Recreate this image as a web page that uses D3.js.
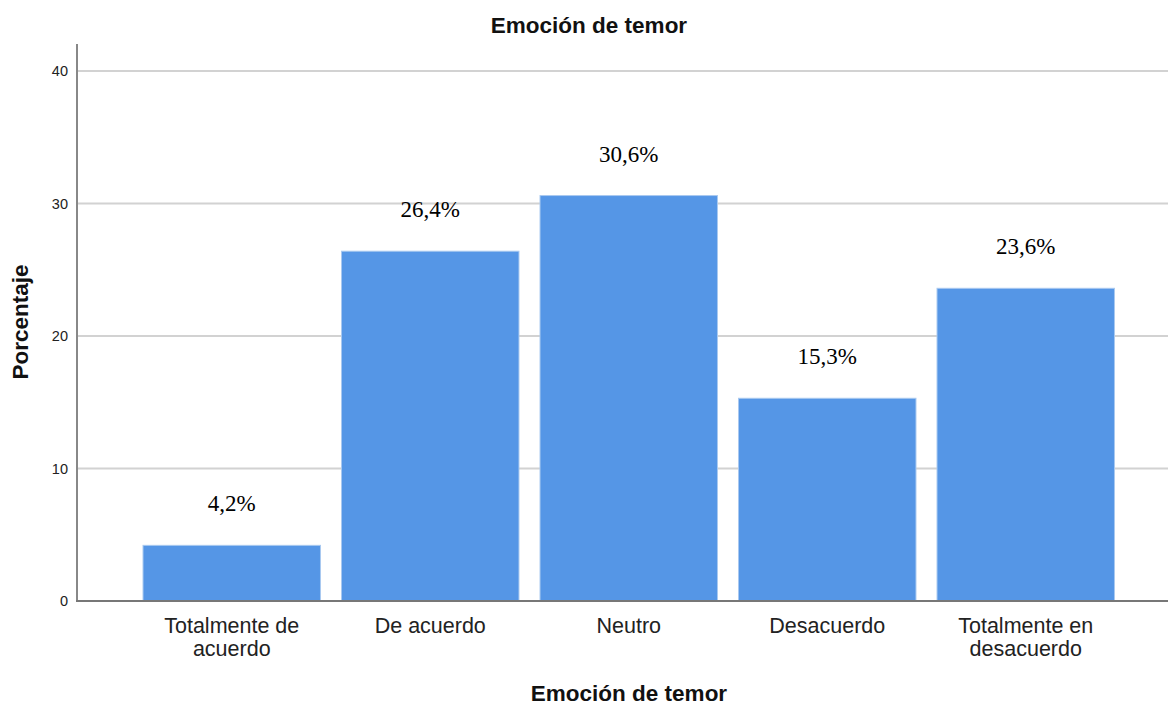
<!DOCTYPE html>
<html>
<head>
<meta charset="utf-8">
<script src="https://cdn.jsdelivr.net/npm/d3@7"></script>
<style>
  body { margin: 0; background: #fff; }
</style>
</head>
<body>
<div id="vis"></div>
<script>
// data
let categories = ['Totalmente de|acuerdo', 'De acuerdo', 'Neutro', 'Desacuerdo', 'Totalmente en|desacuerdo']
let values = [4.2, 26.4, 30.6, 15.3, 23.6]
let yTicks = [0, 10, 20, 30, 40]

let width = 1168,
  height = 706

let svg = d3.select('#vis')
  .append('svg')
  .attr('width', width)
  .attr('height', height)

let y = d3.scaleLinear()
  .domain([0, 40])
  .range([601, 71])

let x = d3.scaleBand()
  .domain(categories)
  .range([132.5, 1125])
  .paddingInner(0.106)
  .paddingOuter(0.053)

// gridlines
svg.selectAll('.grid')
  .data(yTicks.filter(d => d > 0))
  .join('line')
  .attr('x1', 78)
  .attr('x2', 1168)
  .attr('y1', d => y(d))
  .attr('y2', d => y(d))
  .attr('stroke', '#d2d2d2')
  .attr('stroke-width', 2)

// bars
svg.selectAll('.bar')
  .data(values)
  .join('rect')
  .attr('x', (d, i) => x(categories[i]))
  .attr('y', d => y(d))
  .attr('width', x.bandwidth())
  .attr('height', d => y(0) - y(d))
  .attr('fill', '#5596e6')
  .attr('stroke', '#a9c9f0')
  .attr('stroke-width', 1)

// value labels
svg.selectAll('.lbl')
  .data(values)
  .join('text')
  .attr('x', (d, i) => x(categories[i]) + x.bandwidth() / 2)
  .attr('y', d => y(d) - 34)
  .attr('text-anchor', 'middle')
  .style('font-family', '"Liberation Serif", "Times New Roman", serif')
  .style('font-size', '23px')
  .attr('fill', '#000')
  .text(d => d.toFixed(1).replace('.', ',') + '%')

// axes lines
svg.append('line')
  .attr('x1', 77).attr('x2', 77)
  .attr('y1', 44).attr('y2', 602)
  .attr('stroke', '#888').attr('stroke-width', 2)
svg.append('line')
  .attr('x1', 76).attr('x2', 1168)
  .attr('y1', 601).attr('y2', 601)
  .attr('stroke', '#777').attr('stroke-width', 2)

// y tick labels
svg.selectAll('.ytick')
  .data(yTicks)
  .join('text')
  .attr('x', 68)
  .attr('y', d => y(d) + 5)
  .attr('text-anchor', 'end')
  .style('font-family', '"Liberation Sans", Arial, sans-serif')
  .style('font-size', '14.5px')
  .attr('fill', '#222')
  .text(d => d)

// category labels
let cat = svg.selectAll('.cat')
  .data(categories)
  .join('text')
  .attr('text-anchor', 'middle')
  .style('font-family', '"Liberation Sans", Arial, sans-serif')
  .style('font-size', '21.5px')
  .attr('fill', '#222')

cat.selectAll('tspan')
  .data(d => d.split('|').map(t => ({ t: t, c: d })))
  .join('tspan')
  .attr('x', d => x(d.c) + x.bandwidth() / 2)
  .attr('y', (d, i) => 633 + i * 23)
  .text(d => d.t)

// titles
svg.append('text')
  .attr('x', 589).attr('y', 33)
  .attr('text-anchor', 'middle')
  .style('font-family', '"Liberation Sans", Arial, sans-serif')
  .style('font-size', '22.5px')
  .style('font-weight', 'bold')
  .attr('fill', '#111')
  .text('Emoción de temor')

svg.append('text')
  .attr('x', 629).attr('y', 701)
  .attr('text-anchor', 'middle')
  .style('font-family', '"Liberation Sans", Arial, sans-serif')
  .style('font-size', '22.5px')
  .style('font-weight', 'bold')
  .attr('fill', '#111')
  .text('Emoción de temor')

svg.append('text')
  .attr('transform', 'translate(28,322) rotate(-90)')
  .attr('text-anchor', 'middle')
  .style('font-family', '"Liberation Sans", Arial, sans-serif')
  .style('font-size', '22.5px')
  .style('font-weight', 'bold')
  .attr('fill', '#111')
  .text('Porcentaje')
</script>
</body>
</html>
